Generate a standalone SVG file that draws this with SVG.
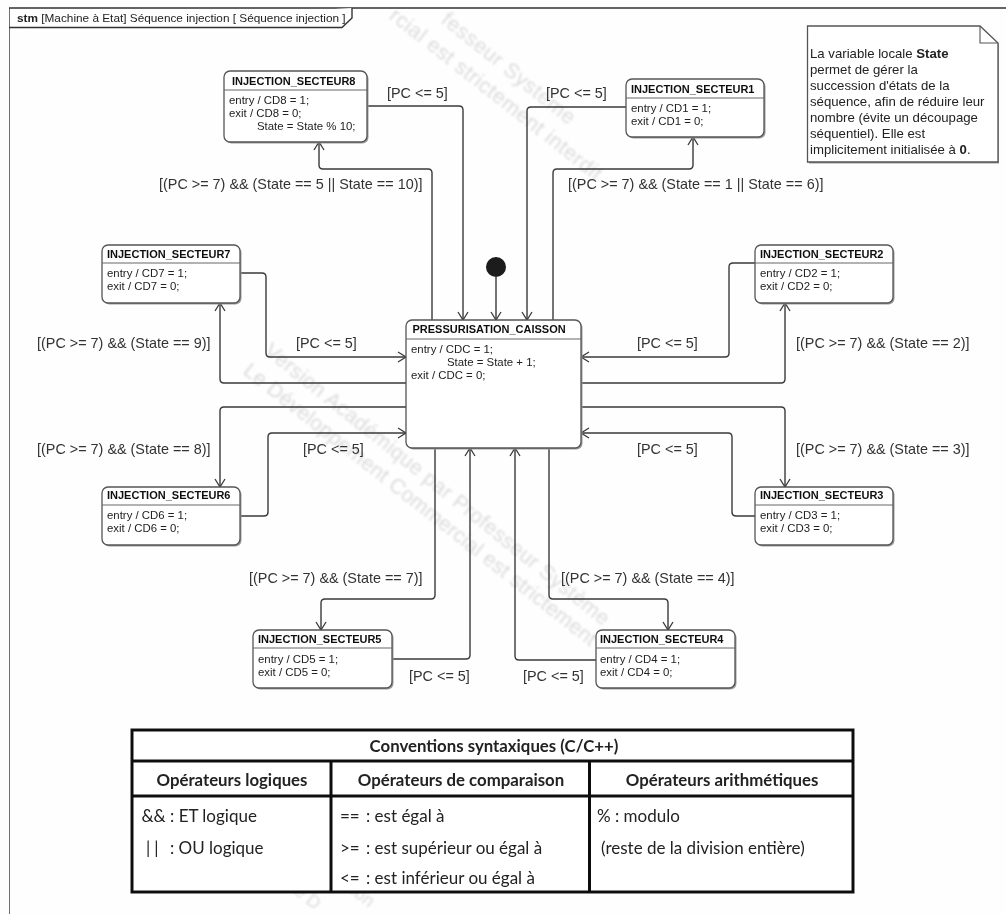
<svg xmlns="http://www.w3.org/2000/svg" width="1006" height="914" viewBox="0 0 1006 914">
<style>
text{font-family:"Liberation Sans",Arial,sans-serif;fill:#222}
.wm{font-size:21px;fill:#dcdcdc}
.lb{font-size:14.4px;fill:#333}
.ti{font-size:11px;font-weight:bold;fill:#111}
.bd{font-size:11.4px;fill:#222}
.nt{font-size:13.2px;fill:#222}
.tb{font-family:Lato,"Liberation Sans",sans-serif;font-size:17px;fill:#222}
.th{font-weight:bold;font-size:16.8px}
.bx{fill:#fff;stroke:#555;stroke-width:1.3}
.sh{fill:#9a9a9a}
.hd{stroke:#666;stroke-width:1;fill:none}
.cn{fill:none;stroke:#3a3a3a;stroke-width:1.4;marker-end:url(#ar)}
.cx{fill:none;stroke:#111;stroke-width:3}
</style>
<defs>
<marker id="ar" markerUnits="userSpaceOnUse" markerWidth="12" markerHeight="12" refX="10" refY="6" orient="auto" overflow="visible">
<path d="M2 1 L10 6 L2 11" fill="none" stroke="#3a3a3a" stroke-width="1.3"/>
</marker>
<filter id="soft" x="0" y="0" width="100%" height="100%"><feGaussianBlur stdDeviation="0.35"/></filter>
<filter id="softer" filterUnits="userSpaceOnUse" x="0" y="0" width="1006" height="914"><feGaussianBlur stdDeviation="0.8"/></filter>
</defs>
<rect width="1006" height="914" fill="#fefefe"/>
<g filter="url(#soft)">
<g id="watermark" filter="url(#softer)">
<text class="wm" transform="translate(263 353) rotate(38.8)" textLength="436">Version Académique par Professeur Système</text>
<text class="wm" transform="translate(242 373) rotate(38.2)" textLength="443">Le Développement Commercial est strictement</text>
<text class="wm" transform="translate(440 22) rotate(38.8)" textLength="165">fesseur Système</text>
<text class="wm" transform="translate(388 18) rotate(38.2)" textLength="264">rcial est strictement interdit</text>
<text class="wm" style="font-size:18px" transform="translate(350 893) rotate(38.8)">ion</text>
<text class="wm" style="font-size:18px" transform="translate(293 893) rotate(38.2)">e D</text>
</g>
<g id="frame">
<path d="M1006 8 H9 V914" fill="none" stroke="#333" stroke-width="1.4"/>
<path d="M9 27.5 H342 L352 18 V8" fill="#fefefe" stroke="#333" stroke-width="1.4"/>
<text x="17" y="22" style="font-size:11.8px"><tspan font-weight="bold">stm</tspan> [Machine à Etat] Séquence injection [ Séquence injection ]</text>
</g>
<g id="connectors">
<path class="cn" d="M367 106 H459 Q463 106 463 110 V320"/>
<path class="cn" d="M432 320 V173 Q432 169 428 169 H323 Q319 169 319 165 V142"/>
<path class="cn" d="M626 107 H531 Q527 107 527 111 V320"/>
<path class="cn" d="M553 320 V173 Q553 169 557 169 H689 Q693 169 693 165 V137"/>
<path class="cn" d="M240 273 H262 Q266 273 266 277 V353 Q266 357 270 357 H406"/>
<path class="cn" d="M406 383 H224 Q220 383 220 379 V303"/>
<path class="cn" d="M755 263 H733 Q729 263 729 267 V353 Q729 357 725 357 H581"/>
<path class="cn" d="M581 383 H781 Q785 383 785 379 V303"/>
<path class="cn" d="M406 407 H224 Q220 407 220 411 V487"/>
<path class="cn" d="M240 516 H264 Q268 516 268 512 V437 Q268 433 272 433 H406"/>
<path class="cn" d="M581 407 H781 Q785 407 785 411 V487"/>
<path class="cn" d="M755 516 H736 Q732 516 732 512 V437 Q732 433 728 433 H581"/>
<path class="cn" d="M435 448 V595 Q435 599 431 599 H325 Q321 599 321 603 V630"/>
<path class="cn" d="M392 659 H466 Q470 659 470 655 V448"/>
<path class="cn" d="M596 660 H519 Q515 660 515 656 V448"/>
<path class="cn" d="M549 448 V595 Q549 599 553 599 H664 Q668 599 668 603 V630"/>
<path class="cn" d="M496 277 V320"/>
<g id="guards">
<text class="lb" x="387" y="98">[PC &lt;= 5]</text>
<text class="lb" x="159" y="189">[(PC &gt;= 7) &amp;&amp; (State == 5 || State == 10)]</text>
<text class="lb" x="546" y="98">[PC &lt;= 5]</text>
<text class="lb" x="568" y="189">[(PC &gt;= 7) &amp;&amp; (State == 1 || State == 6)]</text>
<text class="lb" x="37" y="348">[(PC &gt;= 7) &amp;&amp; (State == 9)]</text>
<text class="lb" x="296" y="348">[PC &lt;= 5]</text>
<text class="lb" x="637" y="348">[PC &lt;= 5]</text>
<text class="lb" x="796" y="348">[(PC &gt;= 7) &amp;&amp; (State == 2)]</text>
<text class="lb" x="37" y="454">[(PC &gt;= 7) &amp;&amp; (State == 8)]</text>
<text class="lb" x="303" y="454">[PC &lt;= 5]</text>
<text class="lb" x="637" y="454">[PC &lt;= 5]</text>
<text class="lb" x="796" y="454">[(PC &gt;= 7) &amp;&amp; (State == 3)]</text>
<text class="lb" x="249" y="583">[(PC &gt;= 7) &amp;&amp; (State == 7)]</text>
<text class="lb" x="561" y="583">[(PC &gt;= 7) &amp;&amp; (State == 4)]</text>
<text class="lb" x="409" y="681">[PC &lt;= 5]</text>
<text class="lb" x="523" y="681">[PC &lt;= 5]</text>
</g>
</g>
<g id="initial"><circle cx="496" cy="267" r="10" fill="#1a1a1a"/></g>
<g id="INJECTION_SECTEUR8">
<rect class="sh" x="225.500" y="72.500" width="143" height="71" rx="6"/><rect class="bx" x="224" y="71" width="143" height="71" rx="6"/>
<path class="hd" d="M224 90 H367"/>
<text class="ti" x="232" y="85">INJECTION_SECTEUR8</text>
<text class="bd" x="229" y="104">entry / CD8 = 1;</text><text class="bd" x="229" y="117">exit / CD8 = 0;</text><text class="bd" x="257" y="130">State = State % 10;</text>
</g>
<g id="INJECTION_SECTEUR1">
<rect class="sh" x="627.500" y="80.500" width="138" height="58" rx="6"/><rect class="bx" x="626" y="79" width="138" height="58" rx="6"/>
<path class="hd" d="M626 98 H764"/>
<text class="ti" x="631" y="93">INJECTION_SECTEUR1</text>
<text class="bd" x="631" y="112">entry / CD1 = 1;</text><text class="bd" x="631" y="125">exit / CD1 = 0;</text>
</g>
<g id="INJECTION_SECTEUR7">
<rect class="sh" x="103.500" y="246.500" width="138" height="58" rx="6"/><rect class="bx" x="102" y="245" width="138" height="58" rx="6"/>
<path class="hd" d="M102 263 H240"/>
<text class="ti" x="107" y="258">INJECTION_SECTEUR7</text>
<text class="bd" x="107" y="277">entry / CD7 = 1;</text><text class="bd" x="107" y="290">exit / CD7 = 0;</text>
</g>
<g id="INJECTION_SECTEUR2">
<rect class="sh" x="756.500" y="246.500" width="138" height="58" rx="6"/><rect class="bx" x="755" y="245" width="138" height="58" rx="6"/>
<path class="hd" d="M755 263 H893"/>
<text class="ti" x="760" y="258">INJECTION_SECTEUR2</text>
<text class="bd" x="760" y="277">entry / CD2 = 1;</text><text class="bd" x="760" y="290">exit / CD2 = 0;</text>
</g>
<g id="PRESSURISATION_CAISSON">
<rect class="sh" x="407.500" y="321.500" width="175" height="128" rx="6"/><rect class="bx" x="406" y="320" width="175" height="128" rx="6"/>
<path class="hd" d="M406 339 H581"/>
<text class="ti" x="412.500" y="333">PRESSURISATION_CAISSON</text>
<text class="bd" x="411" y="353">entry / CDC = 1;</text><text class="bd" x="447" y="366">State = State + 1;</text><text class="bd" x="411" y="379">exit / CDC = 0;</text>
</g>
<g id="INJECTION_SECTEUR6">
<rect class="sh" x="103.500" y="488.500" width="138" height="58" rx="6"/><rect class="bx" x="102" y="487" width="138" height="58" rx="6"/>
<path class="hd" d="M102 505 H240"/>
<text class="ti" x="107" y="499">INJECTION_SECTEUR6</text>
<text class="bd" x="107" y="519">entry / CD6 = 1;</text><text class="bd" x="107" y="532">exit / CD6 = 0;</text>
</g>
<g id="INJECTION_SECTEUR3">
<rect class="sh" x="756.500" y="488.500" width="138" height="58" rx="6"/><rect class="bx" x="755" y="487" width="138" height="58" rx="6"/>
<path class="hd" d="M755 505 H893"/>
<text class="ti" x="760" y="499">INJECTION_SECTEUR3</text>
<text class="bd" x="760" y="519">entry / CD3 = 1;</text><text class="bd" x="760" y="532">exit / CD3 = 0;</text>
</g>
<g id="INJECTION_SECTEUR5">
<rect class="sh" x="254.500" y="631.500" width="139" height="58" rx="6"/><rect class="bx" x="253" y="630" width="139" height="58" rx="6"/>
<path class="hd" d="M253 648 H392"/>
<text class="ti" x="258" y="643">INJECTION_SECTEUR5</text>
<text class="bd" x="258" y="663">entry / CD5 = 1;</text><text class="bd" x="258" y="676">exit / CD5 = 0;</text>
</g>
<g id="INJECTION_SECTEUR4">
<rect class="sh" x="597.500" y="631.500" width="139" height="58" rx="6"/><rect class="bx" x="596" y="630" width="139" height="58" rx="6"/>
<path class="hd" d="M596 648 H735"/>
<text class="ti" x="600" y="643">INJECTION_SECTEUR4</text>
<text class="bd" x="600" y="663">entry / CD4 = 1;</text><text class="bd" x="600" y="676">exit / CD4 = 0;</text>
</g>
<g id="note">
<path d="M809 27.500 H980 L999 44 V163.500 H809 Z" class="sh"/>
<path d="M807.500 26 H980 L998 43 V162 H807.500 Z" fill="#fff" stroke="#555" stroke-width="1.3"/>
<path d="M980 26 V43 H998" fill="none" stroke="#555" stroke-width="1.1"/>
<text class="nt" x="810" y="58">La variable locale <tspan font-weight="bold">State</tspan></text>
<text class="nt" x="810" y="74">permet de gérer la</text>
<text class="nt" x="810" y="90">succession d'états de la</text>
<text class="nt" x="810" y="106">séquence, afin de réduire leur</text>
<text class="nt" x="810" y="122">nombre (évite un découpage</text>
<text class="nt" x="810" y="138">séquentiel). Elle est</text>
<text class="nt" x="810" y="154">implicitement initialisée à <tspan font-weight="bold">0</tspan>.</text>
</g>
<g id="table">
<rect class="cx" x="132" y="730" width="721" height="162" style="fill:#fff"/>
<path class="cx" d="M132 761 H853 M132 796 H853 M331 761 V892 M589.500 761 V892"/>
<text class="tb th" x="494" y="752" text-anchor="middle">Conventions syntaxiques (C/C++)</text>
<text class="tb th" x="232" y="786" text-anchor="middle">Opérateurs logiques</text>
<text class="tb th" x="461" y="786" text-anchor="middle">Opérateurs de comparaison</text>
<text class="tb th" x="722" y="786" text-anchor="middle">Opérateurs arithmétiques</text>
<text class="tb" x="141.500" y="822">&amp;&amp; : ET logique</text>
<text class="tb" x="146" y="854" letter-spacing="4">||</text><text class="tb" x="170" y="854">: OU logique</text>
<text class="tb" x="340" y="822">==</text><text class="tb" x="366" y="822">: est égal à</text>
<text class="tb" x="340" y="854">&gt;=</text><text class="tb" x="366" y="854">: est supérieur ou égal à</text>
<text class="tb" x="340" y="884">&lt;=</text><text class="tb" x="366" y="884">: est inférieur ou égal à</text>
<text class="tb" x="597" y="822">% : modulo</text>
<text class="tb" x="601" y="854">(reste de la division entière)</text>
</g>
</g>
</svg>
